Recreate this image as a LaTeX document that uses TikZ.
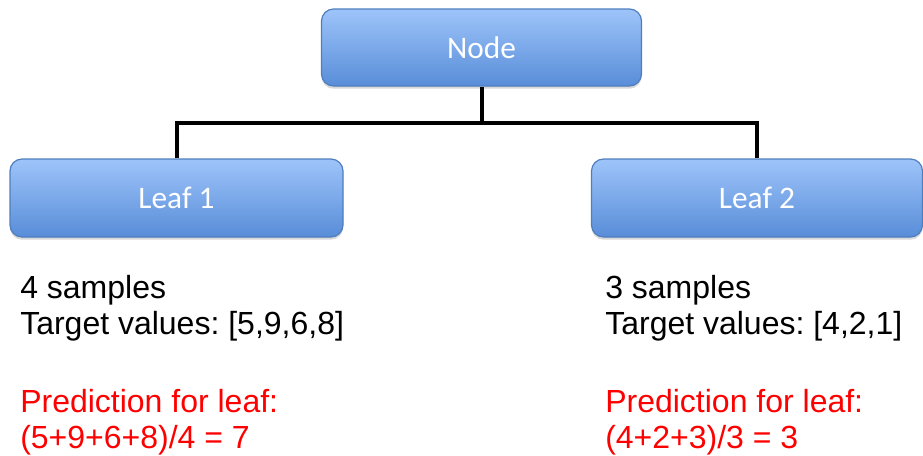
\documentclass[tikz,border=0pt]{standalone}
\usepackage{fontspec}
\setmainfont{Liberation Sans}
\newfontfamily\boxfont{Carlito}
\usetikzlibrary{shadows}
\frenchspacing

\definecolor{boxtop}{RGB}{158,196,250}
\definecolor{boxbot}{RGB}{88,141,216}
\definecolor{boxedge}{RGB}{79,126,190}
\definecolor{predred}{RGB}{255,0,0}

\tikzset{
  treebox/.style={draw=boxedge, line width=0.9pt, rounded corners=9pt,
    top color=boxtop, bottom color=boxbot, text=white,
    font=\boxfont\fontsize{23.5}{27}\selectfont,
    drop shadow={opacity=0.3, shadow xshift=0pt, shadow yshift=-2pt}},
  link/.style={line width=3pt},
  infoline/.style={anchor=base west, inner sep=0pt, font=\fontsize{24}{27}\selectfont}
}

\begin{document}
\begin{tikzpicture}[x=0.75pt, y=-0.75pt]
\useasboundingbox (0,0) rectangle (923,455);

% the split
\node[treebox, minimum width=240pt, minimum height=57.75pt] (root) at (481.5,47.5) {Node};
\node[treebox, minimum width=249.75pt, minimum height=58.5pt] (leafa) at (176.5,198) {Leaf 1};
\node[treebox, minimum width=248.25pt, minimum height=58.5pt] (leafb) at (757,198) {Leaf 2};

\coordinate (fork) at (481.5,123);
\draw[link] (root.south) -- (fork);
\draw[link] (leafa.north) |- (fork) -| (leafb.north);

% left leaf
\node[infoline] (sampa) at (20,298) {4 samples};
\node[infoline] (targa) at (20,334) {Target values: [5,9,6,8]};
\node[infoline, text=predred] (preda) at (20,412) {Prediction for leaf:};
\node[infoline, text=predred] (calca) at (20,448) {(5+9+6+8)/4 = 7};

% right leaf
\node[infoline] (sampb) at (605,298) {3 samples};
\node[infoline] (targb) at (605,334) {Target values: [4,2,1]};
\node[infoline, text=predred] (predb) at (605,412) {Prediction for leaf:};
\node[infoline, text=predred] (calcb) at (605,448) {(4+2+3)/3 = 3};

\end{tikzpicture}
\end{document}
